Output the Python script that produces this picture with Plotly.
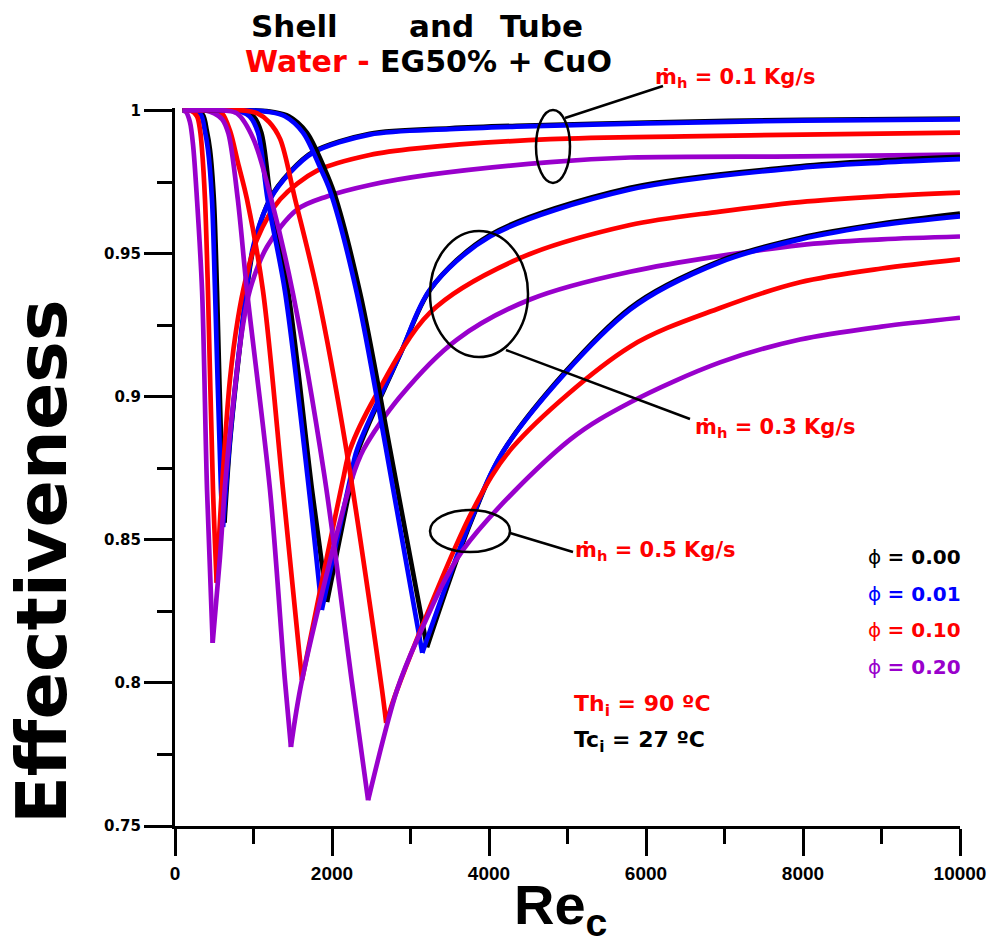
import plotly.graph_objects as go

# ---------------- data ----------------
# mass flow 0.1 kg/s
re_m01_p000 = [100, 270, 355, 405, 445, 495, 535, 605, 630, 700, 800, 900, 1000, 1210, 1465, 1760, 2480, 3500, 4350, 6000, 8000, 10000]
ef_m01_p000 = [1.0, 1.0, 0.9985, 0.993, 0.9864, 0.969, 0.937, 0.8675, 0.856, 0.884, 0.911, 0.934, 0.952, 0.9692, 0.9786, 0.9856, 0.9919, 0.9938, 0.9947, 0.9958, 0.9968, 0.9972]
re_m01_p001 = [100, 250, 330, 380, 420, 471, 510, 586, 611, 700, 800, 900, 1000, 1210, 1465, 1760, 2480, 3500, 4350, 6000, 8000, 10000]
ef_m01_p001 = [1.0, 1.0, 0.9985, 0.993, 0.9864, 0.969, 0.937, 0.8675, 0.8545, 0.885, 0.912, 0.935, 0.953, 0.9689, 0.9783, 0.9853, 0.9916, 0.9935, 0.9944, 0.9955, 0.9965, 0.9969]
re_m01_p010 = [100, 200, 280, 320, 344, 382, 420, 484, 531, 600, 700, 800, 900, 1045, 1340, 1810, 2480, 3080, 4780, 6500, 8000, 10000]
ef_m01_p010 = [1.0, 1.0, 0.998, 0.993, 0.9864, 0.969, 0.937, 0.8675, 0.835, 0.869, 0.906, 0.927, 0.941, 0.955, 0.969, 0.979, 0.9845, 0.9868, 0.990, 0.991, 0.9916, 0.9923]
re_m01_p020 = [100, 140, 190, 230, 280, 345, 408, 480, 573, 640, 750, 860, 955, 1172, 1554, 1936, 2484, 3248, 4780, 5800, 8000, 10000]
ef_m01_p020 = [1.0, 0.9995, 0.996, 0.988, 0.969, 0.937, 0.8675, 0.814, 0.844, 0.870, 0.900, 0.924, 0.9374, 0.9524, 0.9654, 0.970, 0.974, 0.9776, 0.982, 0.9836, 0.984, 0.9846]

# mass flow 0.3 kg/s
re_m03_p000 = [100, 750, 900, 1000, 1100, 1220, 1440, 1745, 1936, 2250, 2330, 2880, 3260, 4013, 5796, 7962, 9000, 10000]
ef_m03_p000 = [1.0, 1.0, 0.9995, 0.998, 0.9923, 0.969, 0.937, 0.8675, 0.8283, 0.871, 0.881, 0.9155, 0.9378, 0.9565, 0.973, 0.9805, 0.9825, 0.9838]
re_m03_p001 = [100, 700, 850, 950, 1057, 1180, 1400, 1707, 1870, 2229, 2318, 2870, 3248, 4013, 5796, 7962, 9000, 10000]
ef_m03_p001 = [1.0, 1.0, 0.9995, 0.998, 0.9923, 0.969, 0.937, 0.8675, 0.8255, 0.871, 0.8815, 0.915, 0.9374, 0.956, 0.9724, 0.980, 0.9818, 0.983]
re_m03_p010 = [100, 500, 600, 700, 800, 917, 1121, 1376, 1618, 2140, 2229, 2550, 3248, 4357, 5796, 6943, 7962, 9000, 10000]
ef_m03_p010 = [1.0, 1.0, 0.999, 0.993, 0.982, 0.969, 0.937, 0.8675, 0.801, 0.871, 0.8815, 0.900, 0.9294, 0.948, 0.960, 0.9647, 0.968, 0.970, 0.9713]
re_m03_p020 = [100, 400, 500, 600, 680, 800, 917, 1210, 1400, 1477, 1618, 2250, 2400, 2866, 3592, 4522, 5796, 7962, 9000, 10000]
ef_m03_p020 = [1.0, 1.0, 0.999, 0.997, 0.992, 0.969, 0.937, 0.8675, 0.801, 0.7776, 0.801, 0.871, 0.8815, 0.900, 0.920, 0.934, 0.9437, 0.953, 0.955, 0.956]

# mass flow 0.5 kg/s
re_m05_p000 = [100, 1050, 1250, 1450, 1680, 1900, 2030, 2360, 2730, 3210, 3780, 4240, 5796, 6943, 7962, 9000, 10000]
ef_m05_p000 = [1.0, 1.0, 0.9995, 0.998, 0.9923, 0.980, 0.971, 0.936, 0.883, 0.8125, 0.857, 0.8835, 0.931, 0.9475, 0.9555, 0.9605, 0.964]
re_m05_p001 = [100, 1000, 1200, 1400, 1630, 1850, 1975, 2318, 2680, 3150, 3758, 4229, 5796, 6943, 7962, 9000, 10000]
ef_m05_p001 = [1.0, 1.0, 0.9995, 0.998, 0.9923, 0.980, 0.972, 0.936, 0.883, 0.8105, 0.856, 0.883, 0.9304, 0.947, 0.955, 0.960, 0.963]
re_m05_p010 = [100, 900, 1050, 1200, 1340, 1530, 1810, 2180, 2637, 2690, 2828, 3796, 4306, 5796, 6943, 7962, 9000, 10000]
ef_m05_p010 = [1.0, 1.0, 0.999, 0.996, 0.990, 0.969, 0.937, 0.882, 0.7976, 0.786, 0.7975, 0.8605, 0.8825, 0.9175, 0.931, 0.940, 0.9448, 0.948]
re_m05_p020 = [100, 650, 790, 1000, 1235, 1503, 1900, 2255, 2460, 2828, 3083, 3669, 5032, 5796, 6943, 7962, 9000, 10000]
ef_m05_p020 = [1.0, 1.0, 0.999, 0.990, 0.968, 0.936, 0.873, 0.800, 0.759, 0.7975, 0.815, 0.8465, 0.885, 0.898, 0.912, 0.920, 0.9245, 0.9276]

phi_labels = ["0.00", "0.01", "0.10", "0.20"]
phi_colors = ["#000000", "#0000FF", "#FF0000", "#9900CC"]
mh_labels = ["0.1", "0.3", "0.5"]

series = [
    (re_m01_p000, ef_m01_p000, 0), (re_m01_p001, ef_m01_p001, 1), (re_m01_p010, ef_m01_p010, 2), (re_m01_p020, ef_m01_p020, 3),
    (re_m03_p000, ef_m03_p000, 0), (re_m03_p001, ef_m03_p001, 1), (re_m03_p010, ef_m03_p010, 2), (re_m03_p020, ef_m03_p020, 3),
    (re_m05_p000, ef_m05_p000, 0), (re_m05_p001, ef_m05_p001, 1), (re_m05_p010, ef_m05_p010, 2), (re_m05_p020, ef_m05_p020, 3),
]

# ---------------- layout geometry ----------------
W, H = 992, 946
ML, MR, MT, MB = 175, 32, 108, 120
PW, PH = W - ML - MR, H - MT - MB

def fx(px):
    return (px - ML) / PW

def fy(py):
    return (H - MB - py) / PH

FONT = "DejaVu Sans"

fig = go.Figure()
for re_v, ef_v, k in series:
    i = ef_v.index(min(ef_v))
    for xs, ys in ((re_v[:i + 1], ef_v[:i + 1]), (re_v[i:], ef_v[i:])):
        fig.add_trace(go.Scatter(
            x=xs, y=ys, mode="lines",
            line=dict(color=phi_colors[k], width=4.7, shape="spline", smoothing=0.9),
            showlegend=False, hoverinfo="skip"))

fig.update_layout(
    width=W, height=H, margin=dict(l=ML, r=MR, t=MT, b=MB, autoexpand=False),
    paper_bgcolor="white", plot_bgcolor="white", showlegend=False,
)
fig.update_xaxes(
    range=[0, 10000], tick0=0, dtick=2000, tickformat="d", automargin=False,
    showline=True, linecolor="black", linewidth=3, mirror=False,
    ticks="outside", ticklen=27, tickwidth=3, tickcolor="black",
    showgrid=False, zeroline=False,
    minor=dict(ticks="outside", ticklen=15, tickwidth=3, tickcolor="black", dtick=1000, showgrid=False),
    tickfont=dict(family="Liberation Sans", size=19, color="black", weight="bold"),
    ticklabelstandoff=1,
)
fig.update_yaxes(
    range=[0.75, 1.0009], tick0=0.75, dtick=0.05, automargin=False,
    showline=True, linecolor="black", linewidth=3,
    ticks="outside", ticklen=28, tickwidth=3, tickcolor="black",
    showgrid=False, zeroline=False,
    minor=dict(ticks="outside", ticklen=15, tickwidth=3, tickcolor="black", dtick=0.025, showgrid=False),
    tickfont=dict(family=FONT, size=15, color="black", weight="bold"),
    ticklabelstandoff=0,
)

ann = []
def add_text(text, px, py, size, color="black", xanchor="center", family=FONT, angle=0):
    ann.append(dict(text=text, x=fx(px), y=fy(py), xref="paper", yref="paper",
                    xanchor=xanchor, yanchor="middle", showarrow=False, textangle=angle,
                    font=dict(family=family, size=size, color=color)))

# titles
add_text("<b>Shell</b>", 294, 26, 31)
add_text("<b>and</b>", 441, 26, 31)
add_text("<b>Tube</b>", 541, 26, 31)
add_text("<b><span style='color:#FF0000'>Water - </span>EG50% + CuO</b>", 428, 61, 30)

# mass flow labels
mh_pos = [(653, 78), (693, 428), (573, 551)]
for lab, (px, py) in zip(mh_labels, mh_pos):
    add_text("<b>ṁ<sub>h</sub> = %s Kg/s</b>" % lab, px, py, 21, color="#FF0000", xanchor="left")

# phi legend
for j, (lab, col) in enumerate(zip(phi_labels, phi_colors)):
    add_text("ϕ <b>= %s</b>" % lab, 963, 557 + 36.7 * j, 20, color=col, xanchor="right")

# temperatures
add_text("<b>Th<sub>i</sub> = 90 ºC</b>", 572, 705, 22, color="#FF0000", xanchor="left")
add_text("<b>Tc<sub>i</sub> = 27 ºC</b>", 572, 741, 22, color="black", xanchor="left")

# axis titles
add_text("<b>Effectiveness</b>", 42, 562, 70, angle=-90)
add_text("<b>Re<sub>c</sub></b>", 560, 908, 56, family="Liberation Sans")

fig.update_layout(annotations=ann)

# ellipses and leader lines
shapes = []
for (x0, x1, y0, y1) in [(536, 570, 110, 183), (430, 528, 231, 357), (430, 510, 510, 552)]:
    shapes.append(dict(type="circle", xref="paper", yref="paper",
                       x0=fx(x0), x1=fx(x1), y0=fy(y1), y1=fy(y0),
                       line=dict(color="black", width=2.5)))
for (x0, y0, x1, y1) in [(565, 118, 663, 86), (506, 350, 690, 419), (510, 533, 573, 552)]:
    shapes.append(dict(type="line", xref="paper", yref="paper",
                       x0=fx(x0), y0=fy(y0), x1=fx(x1), y1=fy(y1),
                       line=dict(color="black", width=2.5)))
fig.update_layout(shapes=shapes)

fig.write_html("out.html")
